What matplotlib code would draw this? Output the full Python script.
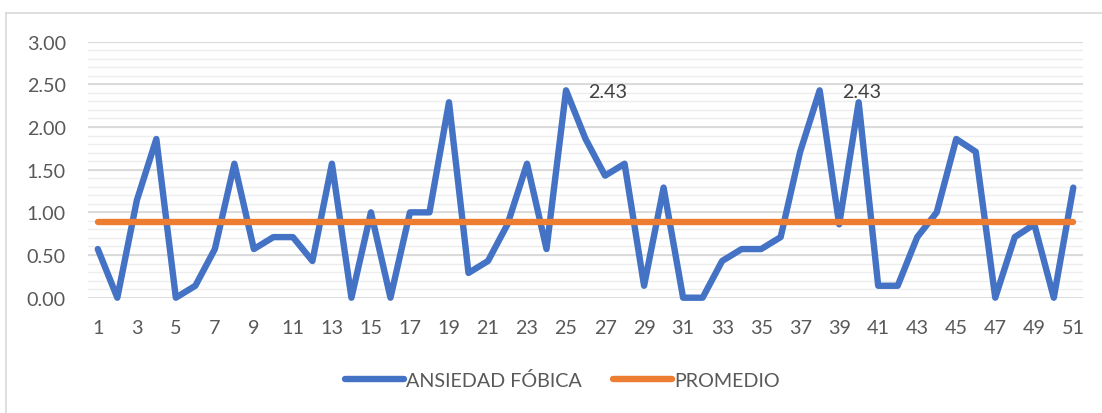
import numpy as np
import matplotlib
matplotlib.use('Agg')
import matplotlib.pyplot as plt
from matplotlib.lines import Line2D

plt.rcParams['font.family'] = ['Lato', 'DejaVu Sans']

casos = list(range(1, 52))
ansiedad = [0.57, 0.00, 1.14, 1.86, 0.00, 0.14, 0.57, 1.57, 0.57, 0.71,
            0.71, 0.43, 1.57, 0.00, 1.00, 0.00, 1.00, 1.00, 2.29, 0.29,
            0.43, 0.86, 1.57, 0.57, 2.43, 1.86, 1.43, 1.57, 0.14, 1.29,
            0.00, 0.00, 0.43, 0.57, 0.57, 0.71, 1.71, 2.43, 0.86, 2.29,
            0.14, 0.14, 0.71, 1.00, 1.86, 1.71, 0.00, 0.71, 0.86, 0.00,
            1.29]
promedio = [round(np.mean(ansiedad), 2)] * len(casos)
etiquetas = [25, 38]  # puntos con etiqueta de dato
xticks = list(range(1, 52, 2))
yticks = [0.0, 0.5, 1.0, 1.5, 2.0, 2.5, 3.0]

gris = '#595959'
fs = 14.2

fig = plt.figure(figsize=(11.02, 4.14), dpi=100)
ax = fig.add_axes([0.0799, 0.2785, 0.9029, 0.6184])

# rejilla menor y mayor
for v in np.arange(0, 3.01, 0.1):
    ax.axhline(v, color='#EDEDED', lw=1.0, zorder=0)
for v in yticks:
    ax.axhline(v, color='#D9D9D9', lw=1.3, zorder=1)

ax.plot(casos, ansiedad, color='#4472C4', lw=4.6, solid_joinstyle='round',
        solid_capstyle='round', clip_on=False, zorder=3, label='ANSIEDAD FÓBICA')
ax.plot(casos, promedio, color='#ED7D31', lw=4.6, solid_capstyle='round',
        clip_on=False, zorder=4, label='PROMEDIO')

for i in etiquetas:
    ax.annotate(f'{ansiedad[i - 1]:.2f}', (i, ansiedad[i - 1]), xytext=(16, -1),
                textcoords='offset points', va='center', ha='left',
                fontsize=fs, color='#404040')

ax.set_xlim(0.5, 51.5)
ax.set_ylim(0, 3)
ax.set_xticks(xticks)
ax.set_yticks(yticks)
ax.set_yticklabels([f'{v:.2f}' for v in yticks])
ax.tick_params(axis='both', length=0, labelsize=fs, labelcolor=gris)
ax.tick_params(axis='x', pad=15)
ax.tick_params(axis='y', pad=16)
for s in ax.spines.values():
    s.set_visible(False)

fig.legend(loc='center', bbox_to_anchor=(0.5104, 0.0797), ncol=2, frameon=False,
           fontsize=fs, labelcolor=gris, handlelength=3.0, handletextpad=0.1,
           columnspacing=1.6)

# borde del area del grafico
fig.add_artist(Line2D([5.5 / 1102, 5.5 / 1102], [0, 1 - 13.5 / 414],
                      color='#D9D9D9', lw=1.2))
fig.add_artist(Line2D([5.5 / 1102, 1], [1 - 13.5 / 414, 1 - 13.5 / 414],
                      color='#D9D9D9', lw=1.2))

fig.savefig('out.png', dpi=100)
